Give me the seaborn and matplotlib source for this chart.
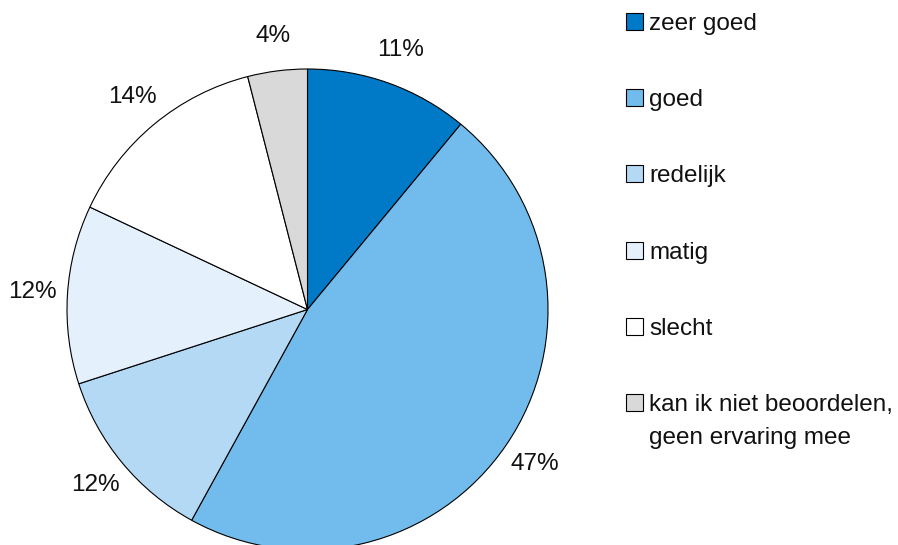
import matplotlib.pyplot as plt
import seaborn as sns
from matplotlib.patches import Patch

categories = ["zeer goed", "goed", "redelijk", "matig", "slecht",
              "kan ik niet beoordelen,"]
extra_line = "geen ervaring mee"
values = [11, 47, 12, 12, 14, 4]
colors = ["#0079C7", "#71BCEC", "#B4D9F4", "#E4F0FB", "#FFFFFF", "#D9D9D9"]

sns.set_theme(style="white")
plt.rcParams["font.family"] = ["Liberation Sans", "DejaVu Sans"]

W, H = 898, 545
fig = plt.figure(figsize=(W / 100, H / 100), dpi=100)
ax = fig.add_axes([67 / W, -5 / H, 481 / W, 481 / H])

wedges, texts, autotexts = ax.pie(
    values, colors=colors, startangle=90, counterclock=False,
    autopct="%1.0f%%", pctdistance=1.145,
    wedgeprops={"edgecolor": "black", "linewidth": 0.8},
    textprops={"fontsize": 17.5, "color": "#111111"},
)
ax.set_xlim(-1, 1)
ax.set_ylim(-1, 1)

handles = [Patch(facecolor=c, edgecolor="black", linewidth=0.8) for c in colors]
leg = fig.legend(handles, categories, loc="upper left",
                 bbox_to_anchor=(626 / W, 1 - 13 / H),
                 frameon=False, fontsize=17.5, handlelength=0.7, handleheight=0.7,
                 handletextpad=0.25, labelspacing=2.23, borderaxespad=0, borderpad=0)
for t in leg.get_texts():
    t.set_color("#111111")

# second line of the last legend entry, aligned under the first line
fig.canvas.draw()
bb = leg.get_texts()[-1].get_window_extent()
fig.text(bb.x0 / W, (bb.y1 - 33) / H, extra_line, ha="left", va="top",
         fontsize=17.5, color="#111111")

fig.savefig("out.png")
